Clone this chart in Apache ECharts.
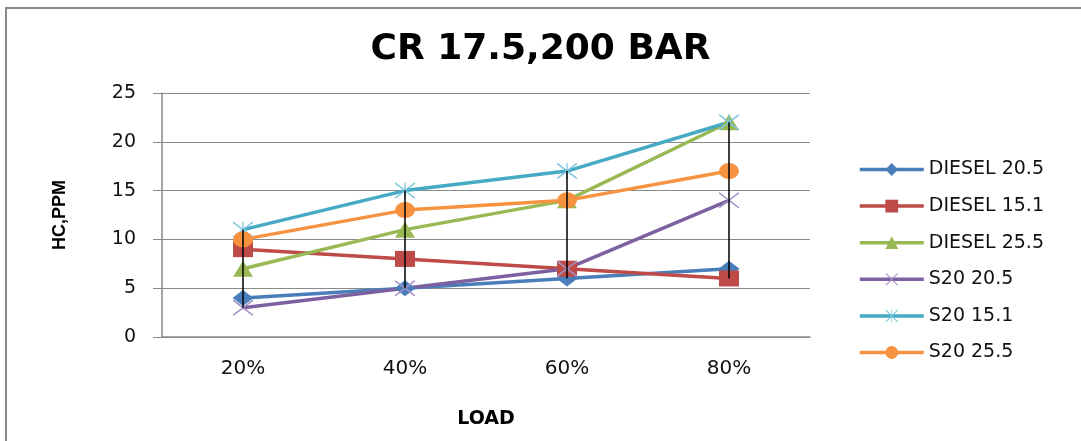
<!DOCTYPE html>
<html>
<head>
<meta charset="utf-8">
<script src="https://cdn.jsdelivr.net/npm/echarts@6/dist/echarts.min.js"></script>
<style>html,body{margin:0;padding:0;background:#fff;}#c{width:1081px;height:441px;}</style>
</head>
<body>
<div id="c"></div>
<script>
var categories = ['20%', '40%', '60%', '80%'];
var diesel205 = [4, 5, 6, 7];
var diesel151 = [9, 8, 7, 6];
var diesel255 = [7, 11, 14, 22];
var s20205 = [3, 5, 7, 14];
var s20151 = [11, 15, 17, 22];
var s20255 = [10, 13, 14, 17];
var yTicks = [0, 5, 10, 15, 20, 25];

var allSeries = [diesel205, diesel151, diesel255, s20205, s20151, s20255];
var highLow = categories.map(function (c, i) {
  var vals = allSeries.map(function (s) { return s[i]; });
  return [i, Math.min.apply(null, vals), Math.max.apply(null, vals)];
});

var xPath = 'path://M0,1.2 L1.2,0 L10,8.8 L18.8,0 L20,1.2 L11.2,10 L20,18.8 L18.8,20 L10,11.2 L1.2,20 L0,18.8 L8.8,10 Z';
var starPath = 'path://M0,1.2 L1.2,0 L10,8.8 L18.8,0 L20,1.2 L11.2,10 L20,18.8 L18.8,20 L10,11.2 L1.2,20 L0,18.8 L8.8,10 Z M9.4,0 L10.6,0 L10.6,20 L9.4,20 Z';

function mk(name, data, color, symbol, size, symColor) {
  return {
    name: name, type: 'line', data: data,
    symbol: symbol, symbolSize: size,
    lineStyle: { color: color, width: 3.5 },
    itemStyle: { color: symColor || color },
    emphasis: { disabled: true },
    animation: false, z: 2
  };
}

var chart = echarts.init(document.getElementById('c'));
chart.setOption({
  animation: false,
  backgroundColor: '#fff',
  graphic: [{
    type: 'rect', shape: { x: 6, y: 8, width: 1090, height: 450 },
    style: { fill: 'none', stroke: '#8a8a8a', lineWidth: 2 }, z: -1
  }],
  title: {
    text: 'CR 17.5,200 BAR', left: 'center', top: 27,
    textStyle: { fontFamily: 'DejaVu Sans', fontWeight: 'bold', fontSize: 36, color: '#000' }
  },
  grid: { left: 162, top: 93, right: 271, bottom: 104 },
  legend: {
    orient: 'vertical', left: 853, top: 155,
    itemWidth: 64, itemHeight: 16, itemGap: 17.6,
    lineStyle: { width: 3.5 },
    textStyle: { fontFamily: 'DejaVu Sans', fontSize: 19, color: '#111' },
    data: ['DIESEL 20.5', 'DIESEL 15.1', 'DIESEL 25.5', 'S20 20.5', 'S20 15.1', 'S20 25.5']
  },
  xAxis: {
    type: 'category', data: categories, boundaryGap: true,
    name: 'LOAD', nameLocation: 'middle', nameGap: 73,
    nameTextStyle: { fontFamily: 'DejaVu Sans', fontWeight: 'bold', fontSize: 19, color: '#000' },
    axisLine: { lineStyle: { color: '#8a8a8a', width: 1.5 } },
    axisTick: { show: false },
    axisLabel: { margin: 22, fontFamily: 'DejaVu Sans', fontSize: 20, color: '#111' }
  },
  yAxis: {
    type: 'value', min: yTicks[0], max: yTicks[yTicks.length - 1], interval: 5,
    name: 'HC,PPM', nameLocation: 'middle', nameGap: 93, nameRotate: 90,
    nameTextStyle: { fontFamily: 'Liberation Sans Narrow, Liberation Sans', fontWeight: 'bold', fontSize: 18, color: '#000' },
    axisLine: { show: true, lineStyle: { color: '#8a8a8a', width: 1.5 } },
    axisTick: { show: true, inside: false, length: 9, lineStyle: { color: '#8a8a8a' } },
    splitLine: { lineStyle: { color: '#8a8a8a', width: 1 } },
    axisLabel: { margin: 26, fontFamily: 'DejaVu Sans', fontSize: 19, color: '#111' }
  },
  series: [
    mk('DIESEL 20.5', diesel205, '#4A7EBB', 'diamond', [21, 16]),
    mk('DIESEL 15.1', diesel151, '#BE4B48', 'rect', [20, 16]),
    mk('DIESEL 25.5', diesel255, '#98B954', 'triangle', [20, 16]),
    mk('S20 20.5', s20205, '#7D60A0', xPath, [21, 16], '#a393c6'),
    mk('S20 15.1', s20151, '#46AAC5', starPath, [21, 16], '#7cc6dc'),
    mk('S20 25.5', s20255, '#F69240', 'circle', [20, 16]),
    {
      type: 'custom', name: 'hl', data: highLow, z: 10, animation: false, silent: true,
      renderItem: function (params, api) {
        var p1 = api.coord([api.value(0), api.value(1)]);
        var p2 = api.coord([api.value(0), api.value(2)]);
        return {
          type: 'line',
          shape: { x1: p1[0], y1: p1[1], x2: p2[0], y2: p2[1] },
          style: { stroke: '#000', lineWidth: 1.5 }
        };
      },
      encode: { x: 0, y: [1, 2] }
    }
  ]
});
</script>
</body>
</html>
